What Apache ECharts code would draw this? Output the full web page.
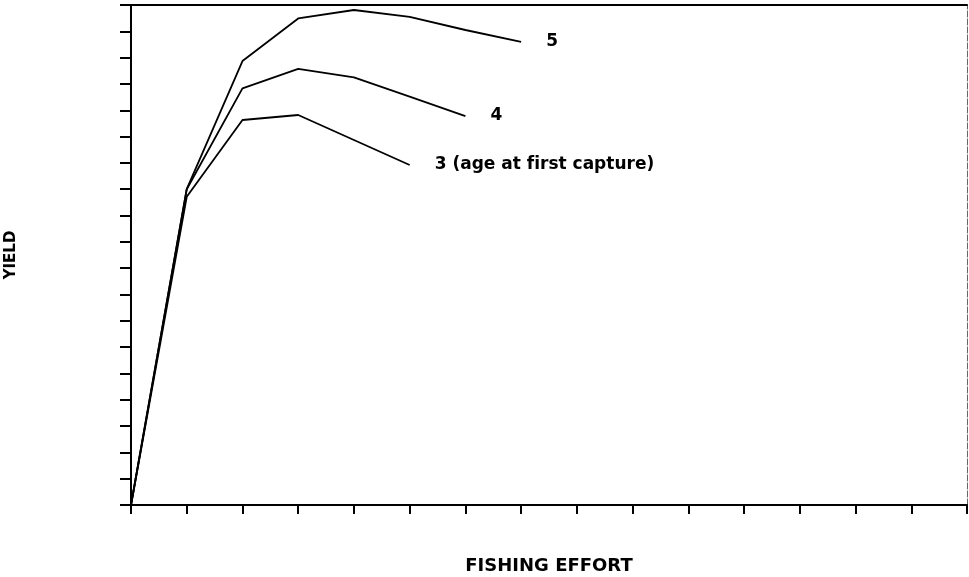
<!DOCTYPE html>
<html>
<head>
<meta charset="utf-8">
<script src="https://cdn.jsdelivr.net/npm/echarts@6/dist/echarts.min.js"></script>
<style>
  html, body { margin: 0; padding: 0; background: #fff; }
  #chart { width: 969px; height: 577px; }
</style>
</head>
<body>
<div id="chart"></div>
<script>
// Fishing effort steps (x) and yield per age at first capture
const effort = [0, 1, 2, 3, 4, 5, 6, 7];
const yieldAge3 = [0, 11.71, 14.63, 14.82, 13.87, 12.92];
const yieldAge4 = [0, 12.0, 15.83, 16.57, 16.25, 15.52, 14.78];
const yieldAge5 = [0, 12.0, 16.87, 18.49, 18.81, 18.55, 18.05, 17.6];
const seriesNames = ['3 (age at first capture)', '4', '5'];

const pairs = (ys) => ys.map((v, i) => [effort[i], v]);

const labelFont = {
  fontFamily: 'DejaVu Sans',
  fontWeight: 'bold',
  fontSize: 17,
  color: '#000'
};

function curve(name, ys) {
  return {
    type: 'line',
    name: name,
    data: pairs(ys),
    symbol: 'none',
    silent: true,
    animation: false,
    lineStyle: { color: '#000', width: 1.8 },
    endLabel: Object.assign({
      show: true,
      // keep "f" and "i" as separate glyphs (no ligature)
      formatter: (p) => p.seriesName.replace(/fi/g, 'f\u200Ci'),
      distance: 25
    }, labelFont)
  };
}

const chart = echarts.init(document.getElementById('chart'), null, { renderer: 'canvas' });
chart.setOption({
  backgroundColor: '#fff',
  animation: false,
  grid: { left: 131, right: 2, top: 5, bottom: 72, containLabel: false, outerBoundsMode: 'none' },
  xAxis: [
    {
      type: 'value', min: 0, max: 15, interval: 1,
      name: 'FISHING EFFORT',
      nameLocation: 'middle',
      nameGap: 52,
      nameTextStyle: { fontFamily: 'DejaVu Sans', fontWeight: 'bold', fontSize: 18, color: '#000' },
      axisLine: { show: true, onZero: false, lineStyle: { color: '#000', width: 2 } },
      axisTick: { show: true, inside: false, length: 9, lineStyle: { color: '#000', width: 2 } },
      axisLabel: { show: false },
      splitLine: { show: false }
    },
    {
      type: 'value', min: 0, max: 15, position: 'top',
      axisLine: { show: true, onZero: false, lineStyle: { color: '#000', width: 2 } },
      axisTick: { show: false },
      axisLabel: { show: false },
      splitLine: { show: false }
    }
  ],
  yAxis: [
    {
      type: 'value', min: 0, max: 19, interval: 1,
      name: 'YIELD',
      nameLocation: 'middle',
      nameGap: 112,
      nameRotate: 90,
      nameTextStyle: { fontFamily: 'DejaVu Sans', fontWeight: 'bold', fontSize: 15, color: '#000' },
      axisLine: { show: true, onZero: false, lineStyle: { color: '#000', width: 2 } },
      axisTick: { show: true, inside: false, length: 11, lineStyle: { color: '#000', width: 2 } },
      axisLabel: { show: false },
      splitLine: { show: false }
    },
    {
      type: 'value', min: 0, max: 19, position: 'right',
      axisLine: { show: true, onZero: false, lineStyle: { color: '#666', width: 1, type: [6, 2] } },
      axisTick: { show: false },
      axisLabel: { show: false },
      splitLine: { show: false }
    }
  ],
  series: [
    curve(seriesNames[0], yieldAge3),
    curve(seriesNames[1], yieldAge4),
    curve(seriesNames[2], yieldAge5)
  ]
});
</script>
</body>
</html>
